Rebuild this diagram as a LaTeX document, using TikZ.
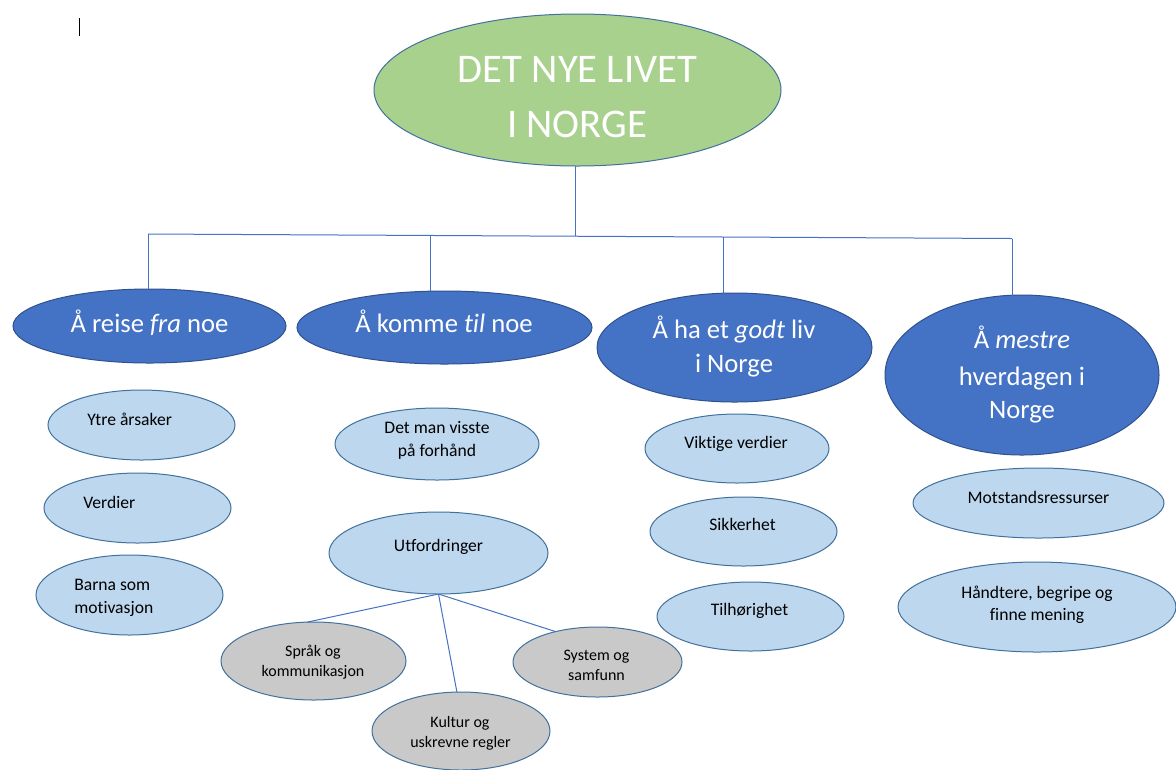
\documentclass[tikz,border=0pt]{standalone}
\usepackage{fontspec}
\setmainfont[Ligatures={NoCommon}]{Carlito}
\usetikzlibrary{shapes.geometric,calc}
\definecolor{maingreen}{HTML}{A9D18E}
\definecolor{topicblue}{HTML}{4472C4}
\definecolor{topicborder}{HTML}{2F528F}
\definecolor{lightblue}{HTML}{BDD7EE}
\definecolor{edgeblue}{HTML}{41719C}
\definecolor{greyfill}{HTML}{C9C9C9}
\definecolor{linkblue}{HTML}{4472C4}
\tikzset{
  esize/.style 2 args={minimum width=#1*0.75pt, minimum height=#2*0.75pt},
  ell/.style={ellipse, inner sep=0pt, outer sep=0pt, line width=0.75pt},
  mainell/.style={ell, draw=edgeblue, fill=maingreen},
  topicell/.style={ell, draw=topicborder, fill=topicblue},
  subell/.style={ell, draw=edgeblue, fill=lightblue},
  greyell/.style={ell, draw=edgeblue, fill=greyfill},
  link/.style={draw=linkblue, line width=0.75pt},
  maintxt/.style={anchor=base, inner sep=0pt, text=white, font=\fontsize{30.5}{36}\selectfont},
  topictxt/.style={anchor=base, inner sep=0pt, text=white, font=\fontsize{20}{24}\selectfont},
  subtxt/.style={anchor=base, inner sep=0pt, text=black, font=\fontsize{13.2}{16}\selectfont},
  subtxtl/.style={subtxt, anchor=base west},
  greytxt/.style={anchor=base, inner sep=0pt, text=black, font=\fontsize{12}{15}\selectfont}
}
\begin{document}
\begin{tikzpicture}[x=0.75pt,y=-0.75pt]
\useasboundingbox (0,0) rectangle (1176,769);
\fill[white] (0,0) rectangle (1176,769);

% cursor mark
\coordinate (cur1) at (79.7,18);
\coordinate (cur2) at (79.7,36);
\draw[black, line width=1.1pt] (cur1) -- (cur2);

% ellipses
\node[mainell, esize={407}{152}] (main) at (577.5,90) {};
\node[topicell, esize={273}{74}] (l1) at (149.5,326) {};
\node[topicell, esize={295}{73}] (l2) at (444.5,327.5) {};
\node[topicell, esize={275}{109}] (l3) at (734.5,347.5) {};
\node[topicell, esize={274}{160}] (l4) at (1022,375) {};

\node[subell, esize={187}{70}] (ytre) at (141.5,425) {};
\node[subell, esize={187}{70}] (verd) at (137.5,508) {};
\node[subell, esize={187}{80}] (barna) at (129.5,595) {};
\node[subell, esize={204}{72}] (detman) at (437,444) {};
\node[subell, esize={219}{82}] (utf) at (438.5,553) {};
\node[subell, esize={184}{69}] (vikt) at (737,448.5) {};
\node[subell, esize={187}{69}] (sikk) at (743.5,531.5) {};
\node[subell, esize={187}{69}] (tilh) at (750.5,616.5) {};
\node[subell, esize={251}{70}] (motst) at (1038.5,503) {};
\node[subell, esize={278}{90}] (handt) at (1037,607) {};

\node[greyell, esize={185}{78}] (sprak) at (313.5,661) {};
\node[greyell, esize={178}{78}] (kultur) at (461,731) {};
\node[greyell, esize={169}{70}] (system) at (597.5,662) {};

% connectors
\coordinate (d1) at (148,234);
\coordinate (d2) at (430,235.3);
\coordinate (bm) at (575,236.2);
\coordinate (d3) at (723,236.8);
\coordinate (d4) at (1012,238.5);
\draw[link] (d1) -- (d4);
\draw[link] (bm |- main.south) -- (bm);
\draw[link] (d1) -- (d1 |- l1.north);
\draw[link] (d2) -- ($(d2 |- l2.north)+(0,0.3)$);
\draw[link] (d3) -- ($(d3 |- l3.north)+(0,0.8)$);
\draw[link] (d4) -- ($(d4 |- l4.north)+(0,0.5)$);

\draw[link] (utf.south) -- (sprak.99);
\draw[link] (utf.south) -- (kultur.96);
\draw[link] (utf.south) -- (system.144);

% texts
\node[maintxt] (tm1) at (577.5,82) {DET NYE LIVET};
\node[maintxt] (tm2) at (577,137) {I NORGE};

\node[topictxt] (t11) at (149.5,332) {Å reise \textit{fra} noe};
\node[topictxt] (t21) at (444,332) {Å komme \textit{til} noe};
\node[topictxt] (t31) at (734,338) {Å ha et \textit{godt} liv};
\node[topictxt] (t32) at (734,372) {i Norge};
\node[topictxt] (t41) at (1022,348) {Å \textit{mestre}};
\node[topictxt] (t42) at (1022,385) {hverdagen i};
\node[topictxt] (t43) at (1022,418) {Norge};

\node[subtxtl] (ty) at (87,425) {Ytre årsaker};
\node[subtxtl] (tv) at (83,508) {Verdier};
\node[subtxtl] (tb1) at (74,590) {Barna som};
\node[subtxtl] (tb2) at (74,613) {motivasjon};
\node[subtxt] (td1) at (437,433) {Det man visste};
\node[subtxt] (td2) at (437,456) {på forhånd};
\node[subtxt] (tu) at (438.5,551) {Utfordringer};
\node[subtxt] (tvk) at (736,448) {Viktige verdier};
\node[subtxt] (ts) at (742.5,530) {Sikkerhet};
\node[subtxt] (tt) at (749.5,615) {Tilhørighet};
\node[subtxt] (tmo) at (1038.5,503) {Motstandsressurser};
\node[subtxt] (th1) at (1037,598) {Håndtere, begripe og};
\node[subtxt] (th2) at (1037,620) {finne mening};

\node[greytxt] (tsp1) at (313,656) {Språk og};
\node[greytxt] (tsp2) at (313,676) {kommunikasjon};
\node[greytxt] (tk1) at (460,727) {Kultur og};
\node[greytxt] (tk2) at (460.5,747) {uskrevne regler};
\node[greytxt] (tsy1) at (596.5,660) {System og};
\node[greytxt] (tsy2) at (596.5,680) {samfunn};
\end{tikzpicture}
\end{document}
